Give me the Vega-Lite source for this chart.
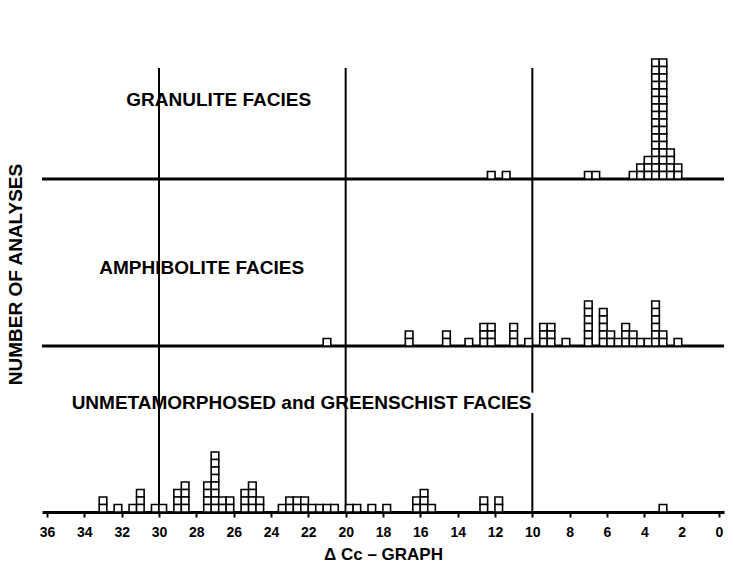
{
  "$schema": "https://vega.github.io/schema/vega-lite/v6.json",
  "padding": {"left": 5, "top": 5, "right": 5, "bottom": 0},
  "config": {"view": {"stroke": null}, "font": "Liberation Sans", "concat": {"spacing": 0}},
  "spacing": 0,
  "bounds": "flush",
  "resolve": {"scale": {"y": "independent"}},
  "datasets": {
    "g": [
      {"d":12.2,"k":1},{"d":11.4,"k":1},{"d":7.0,"k":1},{"d":6.6,"k":1},{"d":4.6,"k":1},
      {"d":4.2,"k":1},{"d":4.2,"k":2},
      {"d":3.8,"k":1},{"d":3.8,"k":2},{"d":3.8,"k":3},
      {"d":3.4,"k":1},{"d":3.4,"k":2},{"d":3.4,"k":3},{"d":3.4,"k":4},{"d":3.4,"k":5},{"d":3.4,"k":6},{"d":3.4,"k":7},{"d":3.4,"k":8},{"d":3.4,"k":9},{"d":3.4,"k":10},{"d":3.4,"k":11},{"d":3.4,"k":12},{"d":3.4,"k":13},{"d":3.4,"k":14},{"d":3.4,"k":15},{"d":3.4,"k":16},
      {"d":3.0,"k":1},{"d":3.0,"k":2},{"d":3.0,"k":3},{"d":3.0,"k":4},{"d":3.0,"k":5},{"d":3.0,"k":6},{"d":3.0,"k":7},{"d":3.0,"k":8},{"d":3.0,"k":9},{"d":3.0,"k":10},{"d":3.0,"k":11},{"d":3.0,"k":12},{"d":3.0,"k":13},{"d":3.0,"k":14},{"d":3.0,"k":15},{"d":3.0,"k":16},
      {"d":2.6,"k":1},{"d":2.6,"k":2},{"d":2.6,"k":3},{"d":2.6,"k":4},
      {"d":2.2,"k":1},{"d":2.2,"k":2}
    ],
    "a": [
      {"d":21.0,"k":1},
      {"d":16.6,"k":1},{"d":16.6,"k":2},
      {"d":14.6,"k":1},{"d":14.6,"k":2},
      {"d":13.4,"k":1},
      {"d":12.6,"k":1},{"d":12.6,"k":2},{"d":12.6,"k":3},
      {"d":12.2,"k":1},{"d":12.2,"k":2},{"d":12.2,"k":3},
      {"d":11.0,"k":1},{"d":11.0,"k":2},{"d":11.0,"k":3},
      {"d":10.2,"k":1},
      {"d":9.4,"k":1},{"d":9.4,"k":2},{"d":9.4,"k":3},
      {"d":9.0,"k":1},{"d":9.0,"k":2},{"d":9.0,"k":3},
      {"d":8.2,"k":1},
      {"d":7.0,"k":1},{"d":7.0,"k":2},{"d":7.0,"k":3},{"d":7.0,"k":4},{"d":7.0,"k":5},{"d":7.0,"k":6},
      {"d":6.2,"k":1},{"d":6.2,"k":2},{"d":6.2,"k":3},{"d":6.2,"k":4},{"d":6.2,"k":5},
      {"d":5.8,"k":1},{"d":5.8,"k":2},
      {"d":5.4,"k":1},
      {"d":5.0,"k":1},{"d":5.0,"k":2},{"d":5.0,"k":3},
      {"d":4.6,"k":1},{"d":4.6,"k":2},
      {"d":4.2,"k":1},
      {"d":3.8,"k":1},
      {"d":3.4,"k":1},{"d":3.4,"k":2},{"d":3.4,"k":3},{"d":3.4,"k":4},{"d":3.4,"k":5},{"d":3.4,"k":6},
      {"d":3.0,"k":1},{"d":3.0,"k":2},
      {"d":2.2,"k":1}
    ],
    "u": [
      {"d":33.0,"k":1},{"d":33.0,"k":2},
      {"d":32.2,"k":1},
      {"d":31.4,"k":1},
      {"d":31.0,"k":1},{"d":31.0,"k":2},{"d":31.0,"k":3},
      {"d":30.2,"k":1},
      {"d":29.8,"k":1},
      {"d":29.0,"k":1},{"d":29.0,"k":2},{"d":29.0,"k":3},
      {"d":28.6,"k":1},{"d":28.6,"k":2},{"d":28.6,"k":3},{"d":28.6,"k":4},
      {"d":27.4,"k":1},{"d":27.4,"k":2},{"d":27.4,"k":3},{"d":27.4,"k":4},
      {"d":27.0,"k":1},{"d":27.0,"k":2},{"d":27.0,"k":3},{"d":27.0,"k":4},{"d":27.0,"k":5},{"d":27.0,"k":6},{"d":27.0,"k":7},{"d":27.0,"k":8},
      {"d":26.6,"k":1},{"d":26.6,"k":2},
      {"d":26.2,"k":1},{"d":26.2,"k":2},
      {"d":25.4,"k":1},{"d":25.4,"k":2},{"d":25.4,"k":3},
      {"d":25.0,"k":1},{"d":25.0,"k":2},{"d":25.0,"k":3},{"d":25.0,"k":4},
      {"d":24.6,"k":1},{"d":24.6,"k":2},
      {"d":23.4,"k":1},
      {"d":23.0,"k":1},{"d":23.0,"k":2},
      {"d":22.6,"k":1},{"d":22.6,"k":2},
      {"d":22.2,"k":1},{"d":22.2,"k":2},
      {"d":21.8,"k":1},{"d":21.4,"k":1},{"d":21.0,"k":1},{"d":20.6,"k":1},
      {"d":19.8,"k":1},{"d":19.4,"k":1},{"d":18.6,"k":1},{"d":17.8,"k":1},
      {"d":16.2,"k":1},{"d":16.2,"k":2},
      {"d":15.8,"k":1},{"d":15.8,"k":2},{"d":15.8,"k":3},
      {"d":15.4,"k":1},
      {"d":12.6,"k":1},{"d":12.6,"k":2},
      {"d":11.8,"k":1},{"d":11.8,"k":2},
      {"d":3.0,"k":1}
    ],
    "lines": [{"v":30},{"v":20},{"v":10}]
  },
  "vconcat": [
    {
      "width": 682, "height": 174,
      "layer": [
        {"data": {"name": "lines"}, "mark": {"type": "rule", "color": "black", "strokeWidth": 2},
         "encoding": {"x": {"field": "v", "type": "quantitative", "scale": {"domain": [0, 36], "reverse": true, "nice": false, "zero": false}, "axis": null},
                      "y": {"datum": 14.8, "type": "quantitative", "scale": {"domain": [0, 23.2], "nice": false}, "axis": null}, "y2": {"datum": 0}}},
        {"data": {"values": [{"b": 0}]}, "mark": {"type": "rule", "color": "black", "strokeWidth": 3},
         "encoding": {"y": {"field": "b", "type": "quantitative", "axis": null}}},
        {"data": {"name": "g"}, "mark": {"type": "bar", "width": 7.6, "fill": "white", "stroke": "black", "strokeWidth": 1.6},
         "encoding": {"x": {"field": "d", "type": "quantitative", "axis": null}, "y": {"aggregate": "count", "type": "quantitative", "axis": null}, "detail": {"field": "k"}}},
        {"data": {"values": [{"t": "GRANULITE FACIES"}]}, "mark": {"type": "text", "align": "left", "baseline": "middle", "fontSize": 19, "fontWeight": "bold", "color": "black"},
         "encoding": {"x": {"datum": 31.75, "type": "quantitative", "axis": null}, "y": {"datum": 10.5, "type": "quantitative", "axis": null}, "text": {"field": "t"}}}
      ]
    },
    {
      "width": 682, "height": 167,
      "layer": [
        {"data": {"name": "lines"}, "mark": {"type": "rule", "color": "black", "strokeWidth": 2},
         "encoding": {"x": {"field": "v", "type": "quantitative", "scale": {"domain": [0, 36], "reverse": true, "nice": false, "zero": false}, "axis": null},
                      "y": {"datum": 22.27, "type": "quantitative", "scale": {"domain": [0, 22.27], "nice": false},
                            "axis": {"title": "NUMBER OF ANALYSES", "labels": false, "ticks": false, "domain": false, "grid": false, "titleFontSize": 19, "titleFontWeight": "bold", "titleColor": "black", "titleX": -21, "titleY": 95, "titleBaseline": "alphabetic"}},
                      "y2": {"datum": 0}}},
        {"data": {"values": [{"b": 0}]}, "mark": {"type": "rule", "color": "black", "strokeWidth": 3},
         "encoding": {"y": {"field": "b", "type": "quantitative"}}},
        {"data": {"name": "a"}, "mark": {"type": "bar", "width": 7.6, "fill": "white", "stroke": "black", "strokeWidth": 1.6},
         "encoding": {"x": {"field": "d", "type": "quantitative", "axis": null}, "y": {"aggregate": "count", "type": "quantitative"}, "detail": {"field": "k"}}},
        {"data": {"values": [{"t": "AMPHIBOLITE FACIES"}]}, "mark": {"type": "text", "align": "left", "baseline": "middle", "fontSize": 19, "fontWeight": "bold", "color": "black"},
         "encoding": {"x": {"datum": 33.2, "type": "quantitative", "axis": null}, "y": {"datum": 10.4, "type": "quantitative"}, "text": {"field": "t"}}}
      ]
    },
    {
      "width": 682, "height": 166,
      "layer": [
        {"data": {"name": "lines"}, "transform": [{"filter": "datum.v != 10"}], "mark": {"type": "rule", "color": "black", "strokeWidth": 2},
         "encoding": {"x": {"field": "v", "type": "quantitative", "scale": {"domain": [0, 36], "reverse": true, "nice": false, "zero": false},
                            "axis": {"values": [0,2,4,6,8,10,12,14,16,18,20,22,24,26,28,30,32,34,36], "format": "d", "labelOverlap": false, "labelFlush": false, "labelFontSize": 14, "labelFontWeight": "bold", "labelColor": "black", "tickColor": "black", "tickSize": 5, "tickWidth": 2, "domainColor": "black", "domainWidth": 3, "grid": false, "labelPadding": 8, "title": "Δ Cc – GRAPH", "titleFontSize": 17, "titleFontWeight": "bold", "titleColor": "black", "titlePadding": 7}},
                      "y": {"datum": 22.13, "type": "quantitative", "scale": {"domain": [0, 22.13], "nice": false}, "axis": null}, "y2": {"datum": 0}}},
        {"data": {"name": "lines"}, "transform": [{"filter": "datum.v == 10"}], "mark": {"type": "rule", "color": "black", "strokeWidth": 2},
         "encoding": {"x": {"field": "v", "type": "quantitative",
                            "axis": {"values": [0,2,4,6,8,10,12,14,16,18,20,22,24,26,28,30,32,34,36], "format": "d", "labelOverlap": false, "labelFlush": false, "labelFontSize": 14, "labelFontWeight": "bold", "labelColor": "black", "tickColor": "black", "tickSize": 5, "tickWidth": 2, "domainColor": "black", "domainWidth": 3, "grid": false, "labelPadding": 8, "title": "Δ Cc – GRAPH", "titleFontSize": 17, "titleFontWeight": "bold", "titleColor": "black", "titlePadding": 7}},
                      "y": {"datum": 13.2, "type": "quantitative"}, "y2": {"datum": 0}}},
        {"data": {"name": "lines"}, "transform": [{"filter": "datum.v == 10"}], "mark": {"type": "rule", "color": "black", "strokeWidth": 2},
         "encoding": {"x": {"field": "v", "type": "quantitative",
                            "axis": {"values": [0,2,4,6,8,10,12,14,16,18,20,22,24,26,28,30,32,34,36], "format": "d", "labelOverlap": false, "labelFlush": false, "labelFontSize": 14, "labelFontWeight": "bold", "labelColor": "black", "tickColor": "black", "tickSize": 5, "tickWidth": 2, "domainColor": "black", "domainWidth": 3, "grid": false, "labelPadding": 8, "title": "Δ Cc – GRAPH", "titleFontSize": 17, "titleFontWeight": "bold", "titleColor": "black", "titlePadding": 7}},
                      "y": {"datum": 22.13, "type": "quantitative"}, "y2": {"datum": 15.9}}},
        {"data": {"name": "u"}, "mark": {"type": "bar", "width": 7.6, "fill": "white", "stroke": "black", "strokeWidth": 1.6},
         "encoding": {"x": {"field": "d", "type": "quantitative",
                            "axis": {"values": [0,2,4,6,8,10,12,14,16,18,20,22,24,26,28,30,32,34,36], "format": "d", "labelOverlap": false, "labelFlush": false, "labelFontSize": 14, "labelFontWeight": "bold", "labelColor": "black", "tickColor": "black", "tickSize": 5, "tickWidth": 2, "domainColor": "black", "domainWidth": 3, "grid": false, "labelPadding": 8, "title": "Δ Cc – GRAPH", "titleFontSize": 17, "titleFontWeight": "bold", "titleColor": "black", "titlePadding": 7}},
                      "y": {"aggregate": "count", "type": "quantitative"}, "detail": {"field": "k"}}},
        {"data": {"values": [{"t": "UNMETAMORPHOSED and GREENSCHIST FACIES"}]}, "mark": {"type": "text", "align": "left", "baseline": "middle", "fontSize": 19, "fontWeight": "bold", "color": "black"},
         "encoding": {"x": {"datum": 34.68, "type": "quantitative",
                            "axis": {"values": [0,2,4,6,8,10,12,14,16,18,20,22,24,26,28,30,32,34,36], "format": "d", "labelOverlap": false, "labelFlush": false, "labelFontSize": 14, "labelFontWeight": "bold", "labelColor": "black", "tickColor": "black", "tickSize": 5, "tickWidth": 2, "domainColor": "black", "domainWidth": 3, "grid": false, "labelPadding": 8, "title": "Δ Cc – GRAPH", "titleFontSize": 17, "titleFontWeight": "bold", "titleColor": "black", "titlePadding": 7}},
                      "y": {"datum": 14.5, "type": "quantitative"}, "text": {"field": "t"}}}
      ]
    }
  ]
}
